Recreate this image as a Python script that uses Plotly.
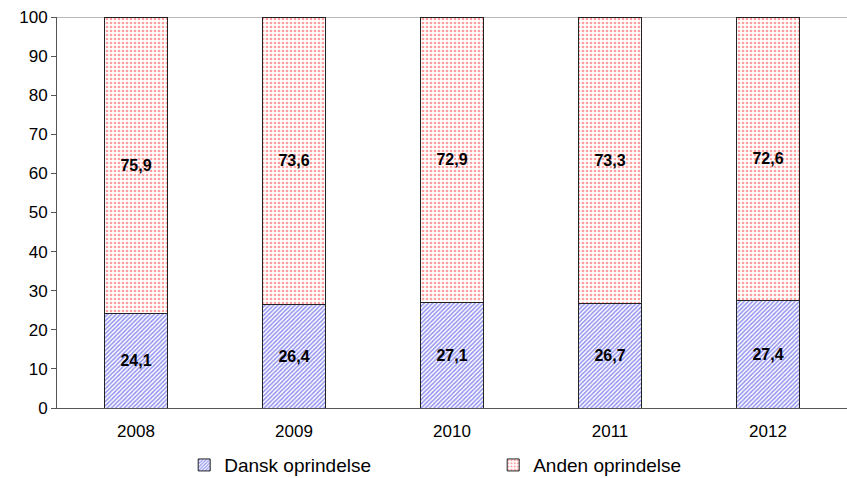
import plotly.graph_objects as go

years = ["2008", "2009", "2010", "2011", "2012"]
dansk = [24.1, 26.4, 27.1, 26.7, 27.4]
anden = [75.9, 73.6, 72.9, 73.3, 72.6]
dansk_labels = ["24,1", "26,4", "27,1", "26,7", "27,4"]
anden_labels = ["75,9", "73,6", "72,9", "73,3", "72,6"]

FONT = "Liberation Sans, Arial, sans-serif"

fig = go.Figure()
fig.add_trace(go.Bar(
    x=years, y=dansk, name="Dansk oprindelse",
    text=dansk_labels, textposition="inside", insidetextanchor="middle",
    textfont=dict(family=FONT, size=16, color="black"),
    texttemplate="<b>%{text}</b>",
    marker=dict(color="white", line=dict(color="#222222", width=1),
                pattern=dict(shape="/", fgcolor="#2424e0", bgcolor="white",
                             size=3, solidity=0.5, fillmode="overlay")),
    width=0.4,
))
fig.add_trace(go.Bar(
    x=years, y=anden, name="Anden oprindelse",
    text=anden_labels, textposition="inside", insidetextanchor="middle",
    textfont=dict(family=FONT, size=16, color="black"),
    texttemplate="<b>%{text}</b>",
    marker=dict(color="white", line=dict(color="#222222", width=1),
                pattern=dict(shape=".", fgcolor="#ff4040", bgcolor="white",
                             size=4, solidity=0.35, fillmode="overlay")),
    width=0.4,
))

fig.add_shape(type="line", xref="paper", yref="y", x0=0, x1=1, y0=100, y1=100,
              line=dict(color="#b8b8b8", width=2), layer="below")

fig.update_layout(
    barmode="stack",
    width=847, height=478,
    margin=dict(l=57, r=0, t=17, b=70),
    plot_bgcolor="white", paper_bgcolor="white",
    font=dict(family=FONT, size=17, color="black"),
    showlegend=True,
    legend=dict(orientation="h", x=0.161, xanchor="left",
                yref="container", y=0.027, yanchor="middle",
                entrywidth=264, entrywidthmode="pixels",
                font=dict(size=19), itemwidth=30, traceorder="normal",
                bgcolor="rgba(0,0,0,0)"),
    xaxis=dict(showline=True, linecolor="#555555", linewidth=1, ticks="",
               ticklabelstandoff=8,
               tickfont=dict(size=17), showgrid=False, zeroline=False),
    yaxis=dict(range=[0, 100], dtick=10, showline=True, linecolor="#555555",
               linewidth=1, ticks="outside", ticklen=5, tickcolor="#555555",
               showgrid=False, zeroline=False, tickfont=dict(size=17)),
)

fig.write_html("out.html", config={"displayModeBar": False},
               post_script="document.body.style.margin='0';document.body.style.overflow='hidden';")
